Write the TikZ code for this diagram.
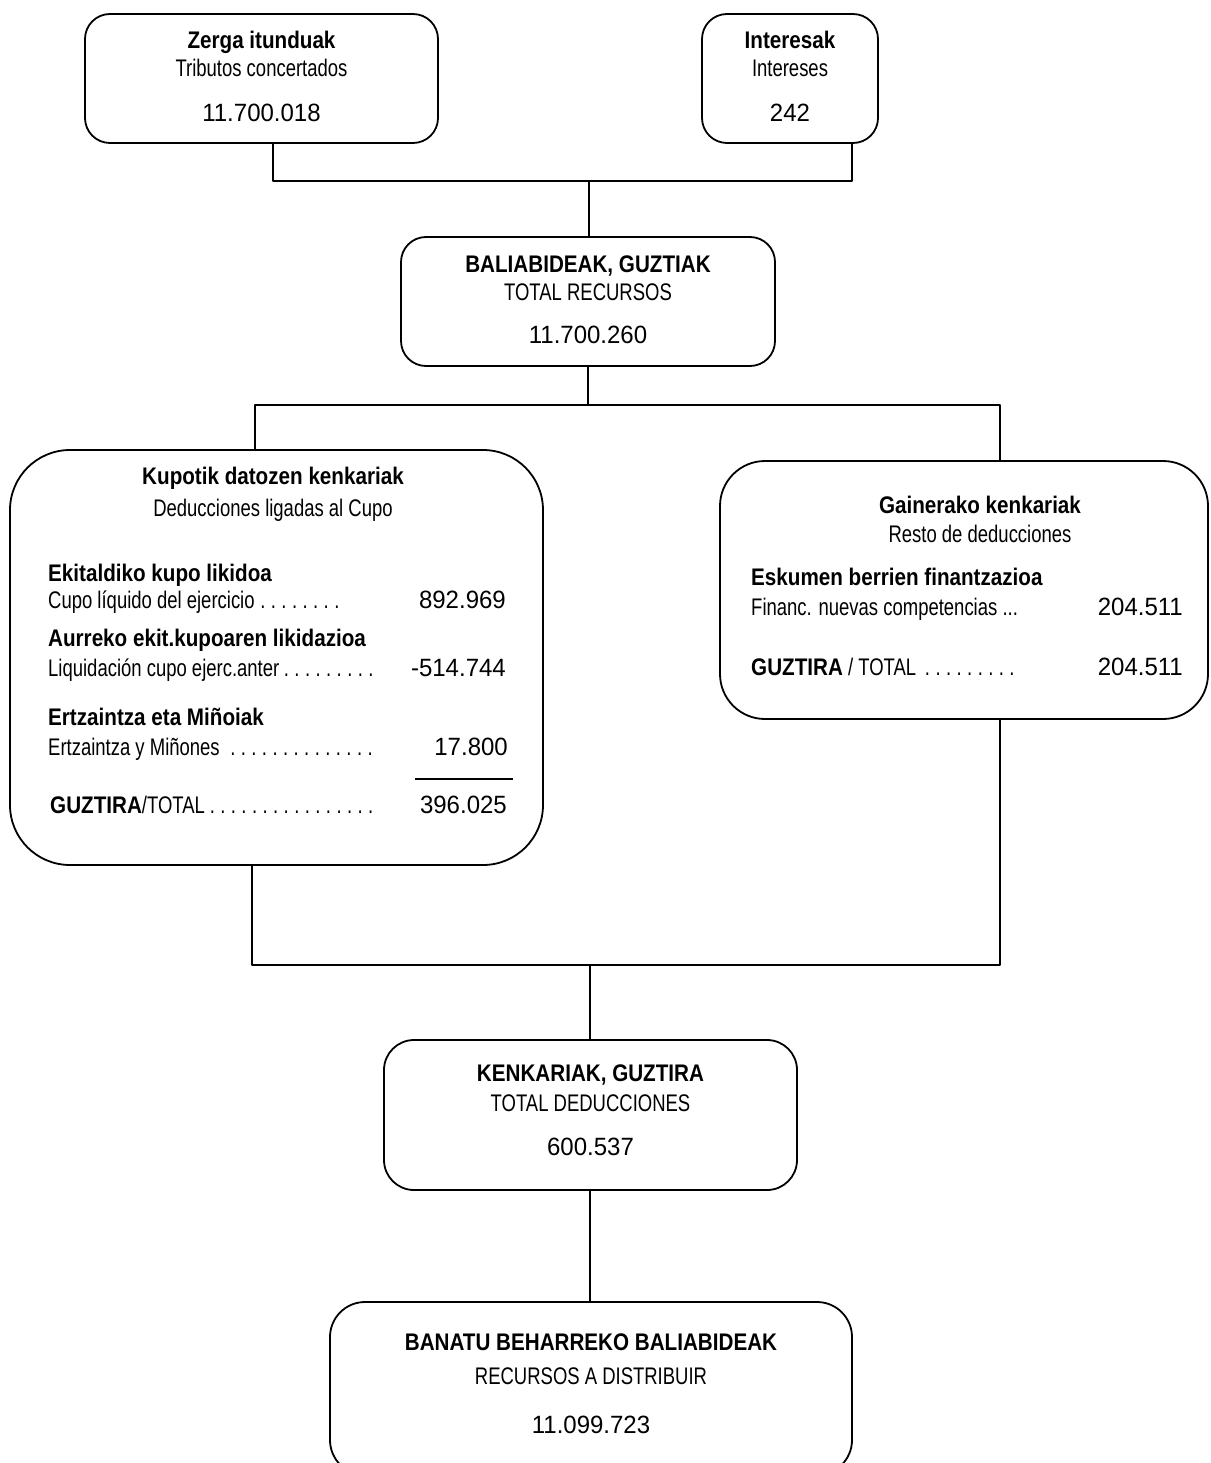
\documentclass[tikz,border=0pt]{standalone}
\usepackage{fontspec}
\setmainfont{Liberation Sans}[FakeStretch=0.77]
\newfontfamily\headfont{Liberation Sans}[FakeStretch=0.86]
\newfontfamily\numfont{Liberation Sans}[FakeStretch=0.96]

\begin{document}
\begin{tikzpicture}[
  x=1pt,
  y=-1pt,
  line join=round,
  every node/.style={inner sep=0pt, text height=0.72em, text depth=0pt},
  box/.style={draw, line width=1.8pt, rounded corners=#1},
  box/.default=25pt,
  link/.style={draw, line width=1.8pt},
  head/.style={font=\headfont\bfseries\fontsize{24}{28}\selectfont},
  sub/.style={font=\fontsize{24}{28}\selectfont},
  amount/.style={font=\numfont\fontsize{25}{29}\selectfont}
]
  % Page frame of the scanned chart.
  \useasboundingbox (0,0) rectangle (1210,1463);

  % Boxes, centred on the measured frames.
  \node[box, minimum width=353pt, minimum height=129pt] (zerga) at (261.5,78.5) {};
  \node[box, minimum width=176pt, minimum height=129pt] (interes) at (790,78.5) {};
  \node[box, minimum width=374pt, minimum height=129pt] (recursos) at (588,301.5) {};
  \node[box=60pt, minimum width=533pt, minimum height=415pt] (kupo) at (276.5,657.5) {};
  \node[box=45pt, minimum width=488pt, minimum height=258pt] (resto) at (964,590) {};
  \node[box=30pt, minimum width=413pt, minimum height=150pt] (deduc) at (590.5,1115) {};
  \node[box=35pt, minimum width=522pt, minimum height=173pt] (banatu) at (591,1388.5) {};

  % Junction points of the tree lines.
  \coordinate (j1) at (589,181);
  \coordinate (j2) at (588,405);
  \coordinate (j3) at (590,965);

  \draw[link] ([xshift=11.5pt]zerga.south) |- (j1) -| ([xshift=-27pt]interes.south east);
  \draw[link] (j1) -- (j1 |- recursos.north);
  \draw[link] (recursos.south) -- (j2);
  \draw[link] ([xshift=-21.5pt]kupo.north) |- (j2) -| ([xshift=36pt]resto.north);
  \draw[link] ([xshift=-24.5pt]kupo.south) |- (j3) -| ([xshift=36pt]resto.south);
  \draw[link] (j3) -- (j3 |- deduc.north);
  \draw[link] (j3 |- deduc.south) -- (j3 |- banatu.north);

  % Incomes.
  \node[head] (zerga-eu) at (261.5,45) {Zerga itunduak};
  \node[sub] (zerga-es) at (261.5,73) {Tributos concertados};
  \node[amount] (zerga-num) at (261.5,118) {11.700.018};
  \node[head] (interes-eu) at (790,45) {Interesak};
  \node[sub] (interes-es) at (790,73) {Intereses};
  \node[amount] (interes-num) at (790,118) {242};

  \node[head] (recursos-eu) at (588,269) {BALIABIDEAK, GUZTIAK};
  \node[sub] (recursos-es) at (588,297) {TOTAL RECURSOS};
  \node[amount] (recursos-num) at (588,340) {11.700.260};

  % Deductions tied to the quota.
  \node[head] (kupo-eu) at (273,481) {Kupotik datozen kenkariak};
  \node[sub] (kupo-es) at (273,513) {Deducciones ligadas al Cupo};
  \node[head, anchor=west] (likido-eu) at (48,578) {Ekitaldiko kupo likidoa};
  \node[sub, anchor=west] (likido-es) at (48,605) {\makebox[297pt][l]{Cupo líquido del ejercicio\dotfill}};
  \node[amount, anchor=east] (likido-num) at (506,605) {892.969};
  \node[head, anchor=west] (liquid-eu) at (48,643) {Aurreko ekit.kupoaren likidazioa};
  \node[sub, anchor=west] (liquid-es) at (48,673) {\makebox[330pt][l]{Liquidación cupo ejerc.anter\dotfill}};
  \node[amount, anchor=east] (liquid-num) at (506,673) {-514.744};
  \node[head, anchor=west] (ertz-eu) at (48,722) {Ertzaintza eta Miñoiak};
  \node[sub, anchor=west] (ertz-es) at (48,752) {\makebox[330pt][l]{Ertzaintza y Miñones \dotfill}};
  \node[amount, anchor=east] (ertz-num) at (508,752) {17.800};
  \draw[line width=1.8pt] (415,779) -- (513,779);
  \node[sub, anchor=west] (kupo-tot) at (50,810) {\makebox[328pt][l]{{\headfont\bfseries\fontsize{24}{28}\selectfont GUZTIRA}/TOTAL\dotfill}};
  \node[amount, anchor=east] (kupo-totnum) at (507,810) {396.025};

  % Other deductions.
  \node[head] (resto-eu) at (980,510) {Gainerako kenkariak};
  \node[sub] (resto-es) at (980,539) {Resto de deducciones};
  \node[head, anchor=west] (eskumen-eu) at (751,582) {Eskumen berrien finantzazioa};
  \node[sub, anchor=west] (eskumen-es) at (751,612) {Financ. nuevas competencias ...};
  \node[amount, anchor=east] (eskumen-num) at (1183,612) {204.511};
  \node[sub, anchor=west] (resto-tot) at (751,672) {\makebox[267pt][l]{{\headfont\bfseries\fontsize{24}{28}\selectfont GUZTIRA} / TOTAL \dotfill}};
  \node[amount, anchor=east] (resto-totnum) at (1183,672) {204.511};

  % Totals.
  \node[head] (deduc-eu) at (590.5,1078) {KENKARIAK, GUZTIRA};
  \node[sub] (deduc-es) at (590.5,1108) {TOTAL DEDUCCIONES};
  \node[amount] (deduc-num) at (590.5,1152) {600.537};

  \node[head] (banatu-eu) at (591,1347) {BANATU BEHARREKO BALIABIDEAK};
  \node[sub] (banatu-es) at (591,1381) {RECURSOS A DISTRIBUIR};
  \node[amount] (banatu-num) at (591,1430) {11.099.723};
\end{tikzpicture}
\end{document}
